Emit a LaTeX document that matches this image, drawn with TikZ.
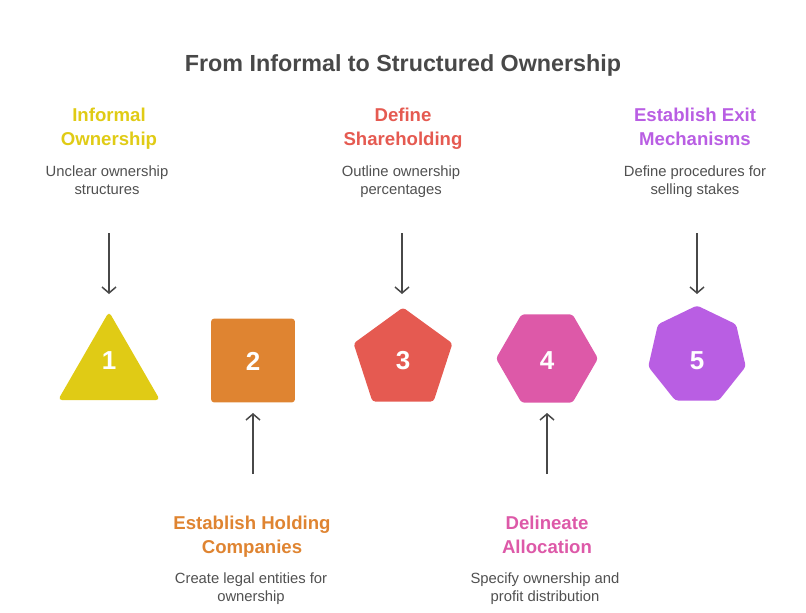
\documentclass[tikz,border=0pt]{standalone}
\usepackage{fontspec}
\setmainfont{Liberation Sans}
\usetikzlibrary{shapes.geometric,arrows.meta}
\definecolor{txtgray}{HTML}{484848}
\definecolor{descgray}{HTML}{505050}
\definecolor{cyel}{HTML}{E0CB15}
\definecolor{corg}{HTML}{DF8431}
\definecolor{cred}{HTML}{E55A51}
\definecolor{cpink}{HTML}{DD59A8}
\definecolor{cpur}{HTML}{B95EE3}
\tikzset{
  poly/.style={regular polygon, draw=none, inner sep=0pt, rounded corners=3pt},
  num/.style={text=white, font=\bfseries\fontsize{26}{26}\selectfont},
  ttl/.style={align=center, inner sep=0pt, font=\bfseries\fontsize{18.6}{24}\selectfont},
  dsc/.style={align=center, inner sep=0pt, text=descgray, font=\fontsize{14.8}{18}\selectfont},
  conn/.style={draw=txtgray, line width=1.5pt, -{Straight Barb[length=6pt,width=14pt,line width=1.5pt]}},
}
\begin{document}
\begin{tikzpicture}[x=1pt,y=-1pt]
\useasboundingbox (0,0) rectangle (806,613);
\node[font=\bfseries\fontsize{23.3}{26}\selectfont, text=txtgray] (title) at (403,65) {From Informal to Structured Ownership};

% shapes
\node[poly, regular polygon sides=3, minimum size=117.8pt, fill=cyel, rounded corners=4pt] (s1) at (109,370.6) {};
\node[poly, regular polygon sides=4, minimum size=118.5pt, fill=corg] (s2) at (253,360.5) {};
\node[poly, regular polygon sides=5, minimum size=104pt, fill=cred] (s3) at (403,359.5) {};
\node[poly, regular polygon sides=6, minimum size=102pt, fill=cpink] (s4) at (547,358.5) {};
\node[poly, regular polygon sides=7, minimum size=100pt, fill=cpur] (s5) at (697,355.5) {};

\node[num] (n1) at (109,361) {1};
\node[num] (n2) at (253,361) {2};
\node[num] (n3) at (403,361) {3};
\node[num] (n4) at (547,361) {4};
\node[num] (n5) at (697,361) {5};

% top labels
\node[ttl, text=cyel] (t1) at (109,129) {\strut Informal\\\strut Ownership};
\node[dsc] (d1) at (107,182) {\strut Unclear ownership\\\strut structures};
\node[ttl, text=cred] (t3) at (403,129) {\strut Define\\\strut Shareholding};
\node[dsc] (d3) at (401,182) {\strut Outline ownership\\\strut percentages};
\node[ttl, text=cpur] (t5) at (695,129) {\strut Establish Exit\\\strut Mechanisms};
\node[dsc] (d5) at (695,182) {\strut Define procedures for\\\strut selling stakes};

% bottom labels
\node[ttl, text=corg] (t2) at (252,537) {\strut Establish Holding\\\strut Companies};
\node[dsc] (d2) at (251,589) {\strut Create legal entities for\\\strut ownership};
\node[ttl, text=cpink] (t4) at (547,537) {\strut Delineate\\\strut Allocation};
\node[dsc] (d4) at (545,589) {\strut Specify ownership and\\\strut profit distribution};

% arrows
\coordinate (a1s) at (109,233); \coordinate (a1e) at (109,294);
\coordinate (a3s) at (402,233); \coordinate (a3e) at (402,294);
\coordinate (a5s) at (697,233); \coordinate (a5e) at (697,294);
\coordinate (a2s) at (253,474); \coordinate (a2e) at (253,413);
\coordinate (a4s) at (547,474); \coordinate (a4e) at (547,413);
\draw[conn] (a1s) -- (a1e);
\draw[conn] (a3s) -- (a3e);
\draw[conn] (a5s) -- (a5e);
\draw[conn] (a2s) -- (a2e);
\draw[conn] (a4s) -- (a4e);
\end{tikzpicture}
\end{document}
